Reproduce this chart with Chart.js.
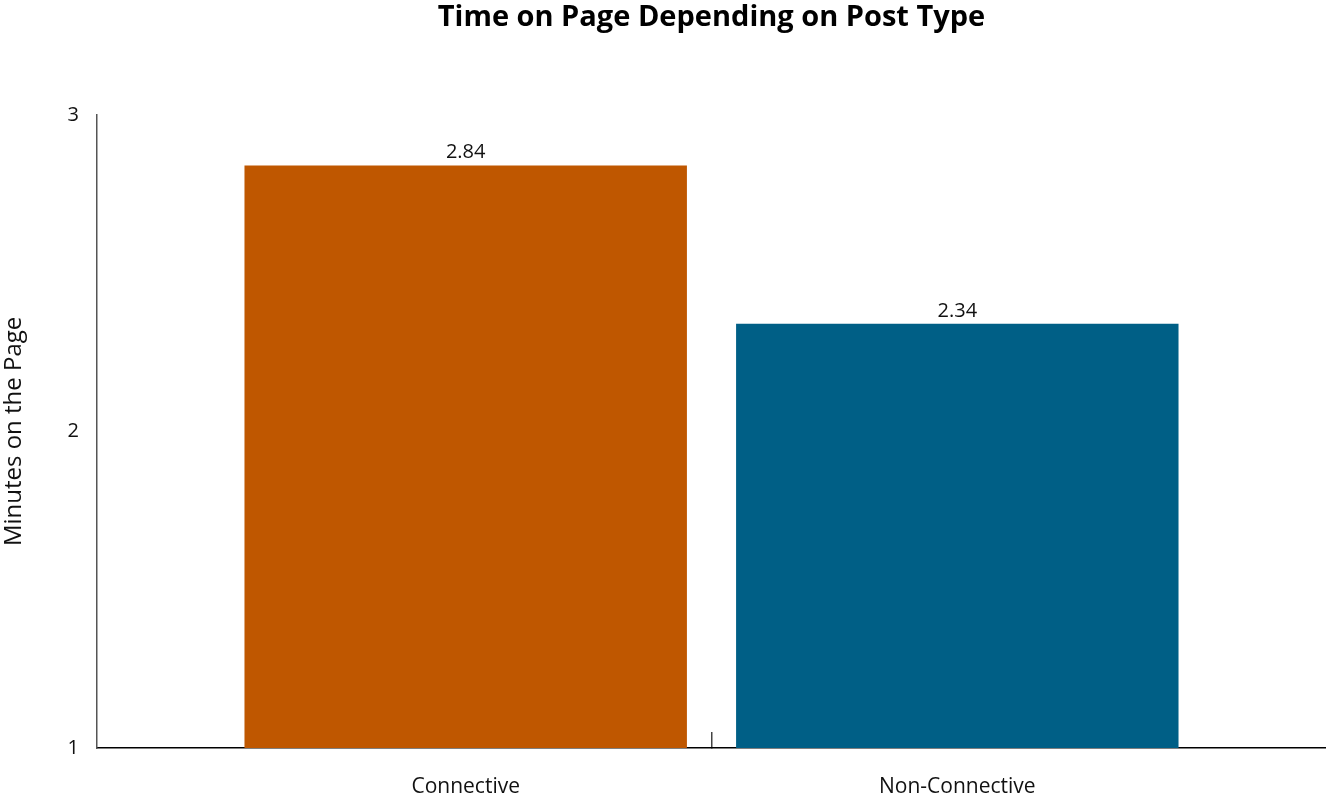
<!DOCTYPE html>
<html>
<head>
<meta charset="utf-8">
<script src="https://cdn.jsdelivr.net/npm/chart.js@4"></script>
<style>
  html, body { margin: 0; padding: 0; background: #fff; }
  #wrap { width: 1326px; height: 799px; }
</style>
</head>
<body>
<div id="wrap"><canvas id="c" width="1326" height="799"></canvas></div>
<script>
const categories = ['Connective', 'Non-Connective'];
const values = [2.84, 2.34];
const barColors = ['#BF5700', '#005F86'];
const yTicks = [1, 2, 3];
const chartTitle = 'Time on Page Depending on Post Type';
const yTitle = 'Minutes on the Page';

const FONT = '"Open Sans", Roboto, sans-serif';

const valueLabels = {
  id: 'valueLabels',
  afterDatasetsDraw(chart) {
    const ctx = chart.ctx;
    const meta = chart.getDatasetMeta(0);
    ctx.save();
    ctx.font = '20px ' + FONT;
    ctx.fillStyle = '#111';
    ctx.textAlign = 'center';
    ctx.textBaseline = 'alphabetic';
    meta.data.forEach((bar, i) => {
      ctx.fillText(values[i].toFixed(2), bar.x, bar.y - 7);
    });
    ctx.restore();
  }
};

new Chart(document.getElementById('c'), {
  type: 'bar',
  data: {
    datasets: [{
      data: categories.map((c, i) => ({ x: i, y: values[i] })),
      backgroundColor: barColors,
      borderWidth: 0,
      barPercentage: 1.8,
      categoryPercentage: 1.0
    }]
  },
  options: {
    responsive: false,
    animation: false,
    devicePixelRatio: 1,
    layout: { padding: { top: 0, right: 0, bottom: 0, left: 0 } },
    plugins: {
      legend: { display: false },
      tooltip: { enabled: false },
      title: {
        display: true,
        fullSize: false,
        text: chartTitle,
        color: '#000',
        font: { family: FONT, size: 29, weight: 'bold' },
        padding: { top: 0, bottom: 80 }
      }
    },
    scales: {
      x: {
        type: 'linear',
        offset: false,
        min: -0.75,
        max: 1.75,
        afterBuildTicks(scale) {
          scale.ticks = [{ value: 0 }, { value: 0.5 }, { value: 1 }];
        },
        afterFit(scale) { scale.height = 51; },
        ticks: {
          autoSkip: false,
          maxRotation: 0,
          padding: 42,
          color: '#111',
          font: { family: FONT, size: 21 },
          callback(v) {
            if (v === 0) return categories[0];
            if (v === 1) return categories[1];
            return '';
          }
        },
        grid: {
          display: true,
          offset: false,
          drawOnChartArea: false,
          drawTicks: true,
          tickLength: -16,
          lineWidth: 1.5,
          color(ctx) { return ctx.tick && ctx.tick.value === 0.5 ? '#444' : 'rgba(0,0,0,0)'; }
        },
        border: { display: true, color: '#000', width: 1.5 }
      },
      y: {
        min: 1,
        max: 3,
        afterBuildTicks(scale) {
          scale.ticks = yTicks.map(v => ({ value: v }));
        },
        afterFit(scale) { scale.width = 97; },
        ticks: {
          padding: 18,
          color: '#111',
          font: { family: FONT, size: 20 }
        },
        grid: { display: false, drawTicks: false },
        border: { display: true, color: '#555', width: 1.5 },
        title: {
          display: true,
          text: yTitle,
          color: '#111',
          font: { family: FONT, size: 24 },
          padding: { top: 0, bottom: 0 }
        }
      }
    }
  },
  plugins: [valueLabels]
});
</script>
</body>
</html>
